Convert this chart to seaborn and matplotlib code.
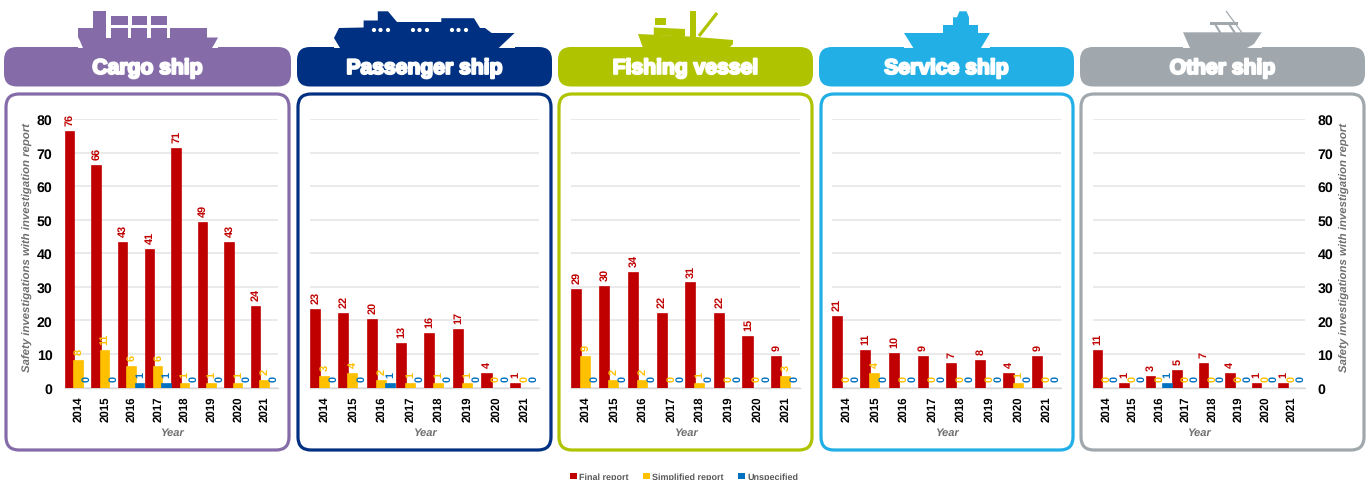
import matplotlib
matplotlib.use("Agg")
import matplotlib.pyplot as plt
import matplotlib.patheffects as pe
from matplotlib.patches import FancyBboxPatch, Polygon, Rectangle, Circle, Patch
import pandas as pd
import seaborn as sns

years = ["2014", "2015", "2016", "2017", "2018", "2019", "2020", "2021"]
report_types = ["Final report", "Simplified report", "Unspecified"]
ship_types = ["Cargo ship", "Passenger ship", "Fishing vessel", "Service ship", "Other ship"]

cargo_final = [76, 66, 43, 41, 71, 49, 43, 24]
cargo_simplified = [8, 11, 6, 6, 1, 1, 1, 2]
cargo_unspecified = [0, 0, 1, 1, 0, 0, 0, 0]
passenger_final = [23, 22, 20, 13, 16, 17, 4, 1]
passenger_simplified = [3, 4, 2, 1, 1, 1, 0, 0]
passenger_unspecified = [0, 0, 1, 0, 0, 0, 0, 0]
fishing_final = [29, 30, 34, 22, 31, 22, 15, 9]
fishing_simplified = [9, 2, 2, 0, 1, 0, 0, 3]
fishing_unspecified = [0, 0, 0, 0, 0, 0, 0, 0]
service_final = [21, 11, 10, 9, 7, 8, 4, 9]
service_simplified = [0, 4, 0, 0, 0, 0, 1, 0]
service_unspecified = [0, 0, 0, 0, 0, 0, 0, 0]
other_final = [11, 1, 3, 5, 7, 4, 1, 1]
other_simplified = [0, 0, 0, 0, 0, 0, 0, 0]
other_unspecified = [0, 0, 1, 0, 0, 0, 0, 0]

series = [
    (cargo_final, cargo_simplified, cargo_unspecified),
    (passenger_final, passenger_simplified, passenger_unspecified),
    (fishing_final, fishing_simplified, fishing_unspecified),
    (service_final, service_simplified, service_unspecified),
    (other_final, other_simplified, other_unspecified),
]

panel_colors = ["#856CA8", "#003082", "#AFC300", "#21AFE6", "#A0A8AD"]
bar_colors = ["#C00000", "#FFC000", "#0070C0"]

W, H = 1370, 481
headers = [(4, 291), (297, 552), (558, 813), (819, 1074), (1080, 1365)]
boxes = [(6, 289), (298, 551), (559, 812), (821, 1073), (1081, 1364)]
plots = [(65, 278), (310, 539), (571, 800), (832, 1061), (1093, 1305)]
Y_TOP, Y_BASE = 120.0, 388.5

sns.set_theme(style="white")
plt.rcParams["font.family"] = ["Liberation Sans", "DejaVu Sans"]
plt.rcParams["text.hinting"] = "no_hinting"

fig = plt.figure(figsize=(W / 100, H / 100), dpi=100)
fig.patch.set_facecolor("white")

bg = fig.add_axes([0, 0, 1, 1], zorder=0)
bg.set_xlim(0, W)
bg.set_ylim(H, 0)
bg.axis("off")


def draw_ship(i):
    c = panel_colors[i]
    if i == 0:
        bg.add_patch(Rectangle((78, 46), 140, 3, fc="white", ec="none", zorder=3))
        bg.add_patch(Polygon([(78, 29), (93, 29), (93, 12), (106, 12), (106, 29), (207, 29),
                              (207, 38.5), (218, 38.5), (215, 44), (212, 49), (83, 49), (80, 42), (78, 38)],
                             fc=c, ec="none", zorder=4))
        for x0, x1 in [(106.5, 111), (128, 131.5), (147.5, 151), (167, 170)]:
            bg.add_patch(Rectangle((x0, 27), x1 - x0, 11.5, fc="white", ec="none", zorder=5))
        bg.add_patch(Rectangle((106.5, 27), 63.5, 2.3, fc="white", ec="none", zorder=5))
        for x0, x1 in [(111, 128), (132, 147.5), (151, 167)]:
            bg.add_patch(Rectangle((x0, 17), x1 - x0, 9, fc=c, ec="none", zorder=5))
    elif i == 1:
        bg.add_patch(Rectangle((334, 46), 181, 3, fc="white", ec="none", zorder=3))
        bg.add_patch(Polygon([(334, 39), (339, 29), (363.6, 28.5), (363.6, 21.5), (377.8, 21.5),
                              (377.8, 12.3), (388, 12.3), (397, 23), (441.3, 23), (441.3, 19.2),
                              (474, 19.2), (480, 29), (485, 29), (491.6, 34), (514.6, 34),
                              (498.7, 49), (340, 49)], fc=c, ec="none", zorder=4))
        for x in [374, 380.5, 388, 413, 419.5, 427, 452, 458.5, 466]:
            bg.add_patch(Circle((x, 31), 2.1, fc="white", ec="none", zorder=5))
    elif i == 2:
        bg.add_patch(Polygon([(638, 35), (690, 37.5), (733, 41), (733, 45), (729, 49), (643, 49)],
                             fc=c, ec="none", zorder=4))
        bg.add_patch(Polygon([(653.8, 28.5), (685, 30), (685, 37.5), (653.8, 36)], fc=c, ec="none", zorder=4))
        bg.add_patch(Rectangle((654.8, 18.5), 10.8, 7.7, fc=c, ec="none", zorder=4))
        bg.add_patch(Rectangle((689.6, 12.3), 6.4, 26, fc=c, ec="none", zorder=4))
        bg.plot([717, 699], [14, 37], color=c, lw=2.3, solid_capstyle="butt", zorder=4)
    elif i == 3:
        bg.add_patch(Rectangle((904, 46), 86, 3, fc="white", ec="none", zorder=3))
        bg.add_patch(Polygon([(904, 34), (943, 34), (943, 26), (953, 26), (953, 18.3), (957, 18.3),
                              (959.4, 12.3), (966.5, 12.3), (969, 18.3), (969, 26), (978, 26),
                              (978, 34), (990, 34), (981, 49), (913.4, 49)], fc=c, ec="none", zorder=4))
    else:
        bg.add_patch(Rectangle((1183, 46), 79, 3, fc="white", ec="none", zorder=3))
        bg.add_patch(Polygon([(1183, 33.3), (1261.7, 33.3), (1254, 45), (1247, 49), (1190, 49)],
                             fc=c, ec="none", zorder=4))
        bg.add_patch(Rectangle((1210.4, 22.7), 27.6, 2.8, fc=c, ec="none", zorder=4))
        bg.plot([1226.3, 1241.6], [12.3, 33.3], color=c, lw=0.9, zorder=4)
        bg.plot([1215, 1220], [25, 33.3], color=c, lw=1.5, zorder=4)
        bg.plot([1229, 1234.5], [25, 33.3], color=c, lw=1.5, zorder=4)


for i, name in enumerate(ship_types):
    c = panel_colors[i]
    hx0, hx1 = headers[i]
    bg.add_patch(FancyBboxPatch((hx0 + 13, 48 + 13), hx1 - hx0 - 26, 39.5 - 26,
                                boxstyle="round,pad=13,rounding_size=13", fc=c, ec="none", zorder=2))
    bx0, bx1 = boxes[i]
    bg.add_patch(FancyBboxPatch((bx0 + 13, 95 + 13), bx1 - bx0 - 26, 356 - 26,
                                boxstyle="round,pad=13,rounding_size=13", fc="white", ec=c, lw=2.3, zorder=2))
    draw_ship(i)
    bg.text((hx0 + hx1) / 2, 69.5, name, ha="center", va="center", color="white", fontsize=15.2,
            fontweight="bold", zorder=6,
            path_effects=[pe.withStroke(linewidth=1.5, foreground="white")])

    x0, x1 = plots[i]
    ax = fig.add_axes([x0 / W, 1 - Y_BASE / H, (x1 - x0) / W, (Y_BASE - Y_TOP) / H], zorder=1)
    ax.patch.set_alpha(0)
    final, simplified, unspecified = series[i]
    df = pd.DataFrame({
        "Year": years * 3,
        "Report": [report_types[0]] * 8 + [report_types[1]] * 8 + [report_types[2]] * 8,
        "Count": list(final) + list(simplified) + list(unspecified),
    })
    sns.barplot(data=df, x="Year", y="Count", hue="Report", hue_order=report_types,
                palette=bar_colors, width=0.95, gap=0, saturation=1, legend=False, ax=ax, zorder=3)
    for cont, col in zip(ax.containers, bar_colors):
        for p, v in zip(cont.patches, cont.datavalues):
            p.set_edgecolor(col)
            p.set_linewidth(1.2 if v > 0 else 0)
        ax.bar_label(cont, rotation=90, fontsize=7.8, fontweight="bold", color=col, padding=5,
                     fmt="%d", label_type="edge", zorder=5)
    ax.set_ylim(0, 80)
    ax.set_yticks(range(0, 81, 10))
    ax.set_xlim(-0.5, 7.5)
    ax.grid(axis="y", color="#E4E4E4", lw=1.1, zorder=0)
    ax.set_axisbelow(True)
    for s in ["top", "left", "right"]:
        ax.spines[s].set_visible(False)
    ax.spines["bottom"].set_color("#D9D9D9")
    ax.spines["bottom"].set_linewidth(1.0)
    ax.tick_params(axis="x", length=0, pad=5.5, labelrotation=90, labelsize=8.3, labelcolor="black")
    for t in ax.get_xticklabels():
        t.set_fontweight("bold")
    ax.set_xlabel("Year", fontsize=8, fontweight="bold", fontstyle="italic", color="#6E6E6E")
    ax.xaxis.set_label_coords(0.5, -(428 - Y_BASE) / (Y_BASE - Y_TOP))
    ylab = "Safety investigations with investigation report"
    if i == 0 or i == 4:
        if i == 4:
            ax.yaxis.tick_right()
            ax.yaxis.set_label_position("right")
        ax.tick_params(axis="y", length=0, pad=9, labelsize=10.2, labelcolor="black")
        for t in ax.get_yticklabels():
            t.set_fontweight("bold")
        ax.set_ylabel(ylab, fontsize=8.2, fontweight="bold", fontstyle="italic", color="#6E6E6E")
        lx = 33 if i == 0 else 1340
        ax.yaxis.set_label_coords((lx - x0) / (x1 - x0), (Y_BASE - 248) / (Y_BASE - Y_TOP))
    else:
        ax.tick_params(axis="y", length=0, labelleft=False)
        ax.set_ylabel("")

handles = [Patch(facecolor=c, edgecolor="none") for c in bar_colors]
leg = fig.legend(handles, report_types, loc="center", bbox_to_anchor=(684 / W, 1 - 478 / H), ncol=3,
                 frameon=False, fontsize=6.5, handlelength=0.75, handleheight=0.75, handletextpad=0.3,
                 columnspacing=1.55, borderpad=0, borderaxespad=0)
for t in leg.get_texts():
    t.set_fontweight("bold")
    t.set_color("#595959")

fig.savefig("out.png", dpi=100)
